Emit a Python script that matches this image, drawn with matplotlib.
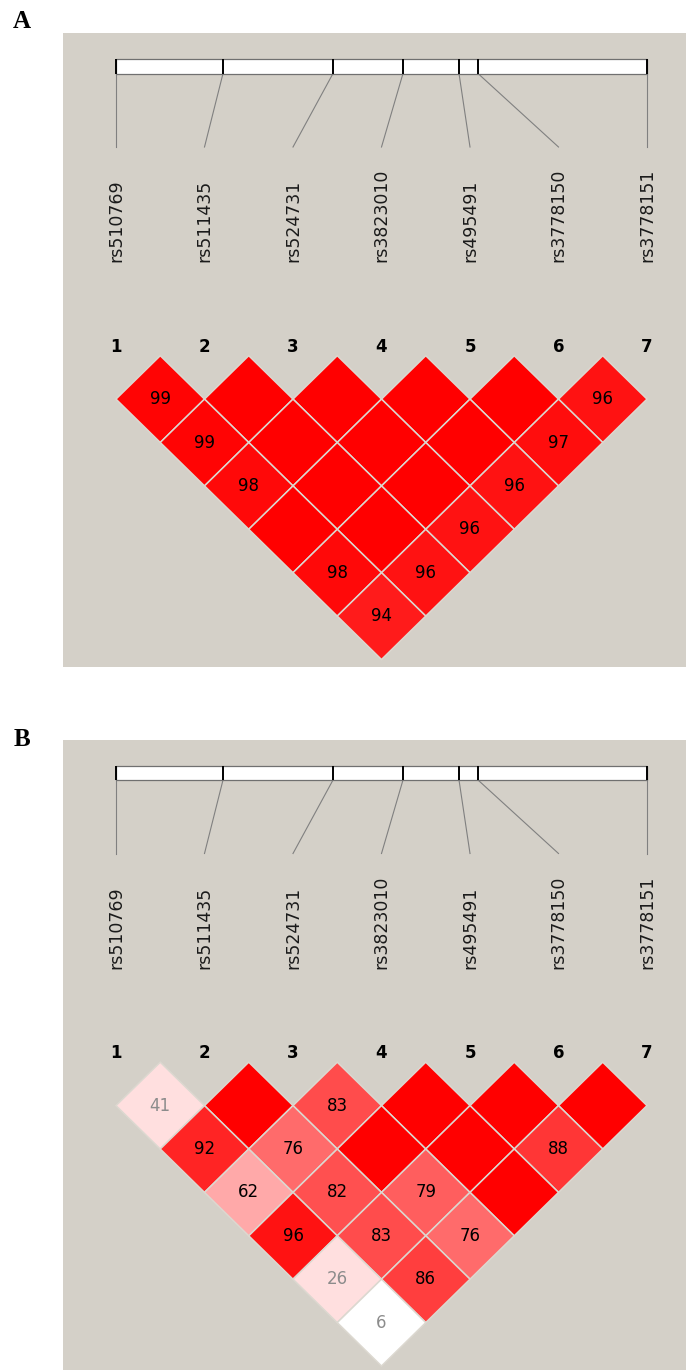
import numpy as np
import matplotlib.pyplot as plt
from matplotlib.patches import Polygon, Rectangle

# SNP names and their relative physical spacing along the region bar
snp_names = ['rs510769', 'rs511435', 'rs524731', 'rs3823010',
             'rs495491', 'rs3778150', 'rs3778151']
snp_pos = [0, 107, 217, 287, 343, 362, 531]

# D' x 100, one row per marker distance (row 1 = neighbouring SNPs).
# 100 is drawn as an empty bright red box.
dprime_a = [[99, 100, 100, 100, 100, 96],
            [99, 100, 100, 100, 97],
            [98, 100, 100, 96],
            [100, 100, 96],
            [98, 96],
            [94]]
dprime_b = [[41, 100, 83, 100, 100, 100],
            [92, 76, 100, 100, 88],
            [62, 82, 79, 100],
            [96, 83, 76],
            [26, 86],
            [6]]
# marker pairs with LOD < 2 (white box)
low_lod_a = []
low_lod_b = [(1, 7)]

BG = '#D4D0C8'
W, H = 686, 1370

fig = plt.figure(figsize=(W / 100, H / 100), dpi=100)
ax = fig.add_axes([0, 0, 1, 1])
ax.set_xlim(0, W)
ax.set_ylim(H, 0)
ax.axis('off')


def box_color(d, low):
    if low:
        return (1, 1, 1)
    if d >= 100:
        return (1, 0, 0)
    g = min(223, 446 * (1 - d / 100.0)) / 255.0
    return (1, g, g)


def draw_panel(top, letter, letter_y, dprime, low_lod):
    n = len(snp_names)
    ax.add_patch(Rectangle((63, top), W - 63, 634, fc=BG, ec='none', zorder=0))
    ax.text(22, letter_y, letter, ha='center', va='center', fontsize=18,
            fontweight='bold', family=['Liberation Serif', 'DejaVu Serif'])

    # region bar with the SNP positions
    x0, x1 = 116, 647
    bx = x0 + (x1 - x0) * np.array(snp_pos) / snp_pos[-1]
    lx = np.linspace(x0, x1, n)
    ax.add_patch(Rectangle((x0, top + 26), x1 - x0, 14.5, fc='white',
                           ec='#707070', lw=0.9, zorder=2))
    ax.vlines(bx, top + 26, top + 40.5, color='black', lw=1.4, zorder=3)
    for b, l, name in zip(bx, lx, snp_names):
        ax.plot([b, l], [top + 40.5, top + 114], color='#808080', lw=0.8, zorder=1)
        ax.text(l, top + 229, name, rotation=90, ha='center', va='bottom',
                fontsize=12.5, color='#1a1a1a')

    for k, l in enumerate(lx):
        ax.text(l, top + 314, str(k + 1), ha='center', va='center',
                fontsize=12, fontweight='bold')

    # LD triangle
    hw = (lx[1] - lx[0]) / 2
    hh = 43.4
    ytop = top + 322.7
    for r, row in enumerate(dprime, start=1):
        for i, d in enumerate(row, start=1):
            j = i + r
            cx = (lx[i - 1] + lx[j - 1]) / 2
            cy = ytop + r * hh
            verts = [(cx, cy - hh), (cx + hw, cy), (cx, cy + hh), (cx - hw, cy)]
            ax.add_patch(Polygon(verts, closed=True,
                                 fc=box_color(d, (i, j) in low_lod),
                                 ec='#DCD8D0', lw=1.1, zorder=2))
            if d < 100:
                ax.text(cx, cy, str(d), ha='center', va='center', fontsize=12,
                        color='#8C8C8C' if d < 50 else 'black', zorder=3)


draw_panel(33, 'A', 21, dprime_a, low_lod_a)
draw_panel(739.5, 'B', 739, dprime_b, low_lod_b)

fig.savefig('out.png', dpi=100, facecolor='white')
